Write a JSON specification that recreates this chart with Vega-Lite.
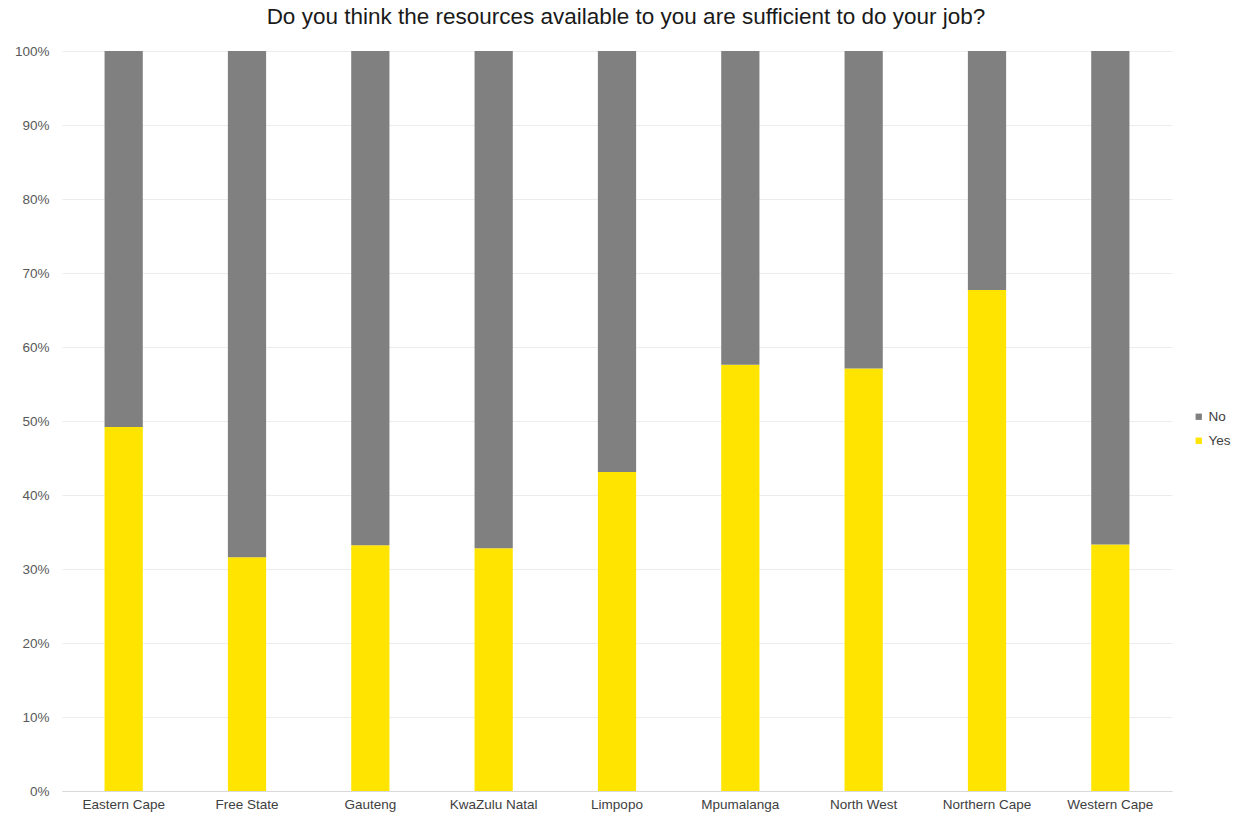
{
  "$schema": "https://vega.github.io/schema/vega-lite/v6.json",
  "width": 1110,
  "height": 740,
  "autosize": {"type": "none"},
  "padding": {"left": 62, "top": 51, "right": 67, "bottom": 27},
  "background": "white",
  "config": {"view": {"stroke": null}},
  "title": {
    "text": "Do you think the resources available to you are sufficient to do your job?",
    "font": "Liberation Sans",
    "fontSize": 22.5,
    "fontWeight": "normal",
    "color": "#1a1a1a",
    "anchor": "middle",
    "dx": 9,
    "offset": 16
  },
  "data": {
    "values": [
      {"province": "Eastern Cape", "answer": "Yes", "value": 0.492},
      {"province": "Eastern Cape", "answer": "No", "value": 0.508},
      {"province": "Free State", "answer": "Yes", "value": 0.316},
      {"province": "Free State", "answer": "No", "value": 0.684},
      {"province": "Gauteng", "answer": "Yes", "value": 0.332},
      {"province": "Gauteng", "answer": "No", "value": 0.668},
      {"province": "KwaZulu Natal", "answer": "Yes", "value": 0.328},
      {"province": "KwaZulu Natal", "answer": "No", "value": 0.672},
      {"province": "Limpopo", "answer": "Yes", "value": 0.431},
      {"province": "Limpopo", "answer": "No", "value": 0.569},
      {"province": "Mpumalanga", "answer": "Yes", "value": 0.576},
      {"province": "Mpumalanga", "answer": "No", "value": 0.424},
      {"province": "North West", "answer": "Yes", "value": 0.571},
      {"province": "North West", "answer": "No", "value": 0.429},
      {"province": "Northern Cape", "answer": "Yes", "value": 0.677},
      {"province": "Northern Cape", "answer": "No", "value": 0.323},
      {"province": "Western Cape", "answer": "Yes", "value": 0.333},
      {"province": "Western Cape", "answer": "No", "value": 0.667}
    ]
  },
  "transform": [
    {"calculate": "datum.answer === 'Yes' ? 0 : 1", "as": "ord"}
  ],
  "mark": {"type": "bar", "stroke": null},
  "encoding": {
    "x": {
      "field": "province",
      "type": "nominal",
      "sort": null,
      "title": null,
      "scale": {"paddingInner": 0.69, "paddingOuter": 0.345},
      "axis": {
        "labelAngle": 0,
        "labelFont": "Liberation Sans",
        "labelFontSize": 13.5,
        "labelColor": "#404040",
        "labelPadding": 6,
        "ticks": false,
        "domain": true,
        "domainColor": "#d9d9d9",
        "grid": false
      }
    },
    "y": {
      "field": "value",
      "type": "quantitative",
      "stack": "zero",
      "title": null,
      "scale": {"domain": [0, 1], "nice": false},
      "axis": {
        "format": "%",
        "values": [0, 0.1, 0.2, 0.3, 0.4, 0.5, 0.6, 0.7, 0.8, 0.9, 1],
        "labelFont": "Liberation Sans",
        "labelFontSize": 13.5,
        "labelColor": "#595959",
        "labelPadding": 13,
        "ticks": false,
        "domain": false,
        "grid": true,
        "gridColor": "#ececec",
        "gridWidth": 1
      }
    },
    "color": {
      "field": "answer",
      "type": "nominal",
      "scale": {"domain": ["No", "Yes"], "range": ["#808080", "#ffe400"]},
      "legend": {
        "title": null,
        "orient": "none",
        "legendX": 1130,
        "legendY": 359,
        "symbolType": "square",
        "symbolSize": 40,
        "labelFont": "Liberation Sans",
        "labelFontSize": 13.5,
        "labelColor": "#404040",
        "labelOffset": 3,
        "rowPadding": 9
      }
    },
    "order": {"field": "ord", "type": "quantitative"}
  }
}
